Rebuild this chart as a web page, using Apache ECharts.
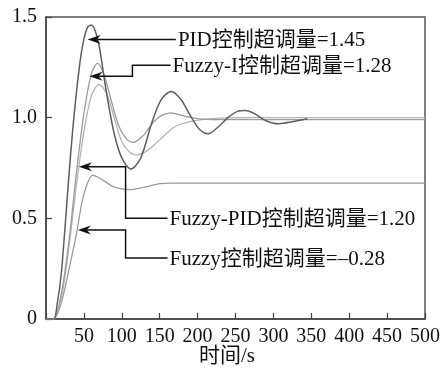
<!DOCTYPE html>
<html><head><meta charset="utf-8">
<script src="https://cdn.jsdelivr.net/npm/echarts@6/dist/echarts.min.js"></script>
<style>html,body{margin:0;padding:0;background:#fff}#c{width:444px;height:372px}</style>
</head><body><div id="c"></div>
<script>
// ---- data ----
const xTicks = [0, 50, 100, 150, 200, 250, 300, 350, 400, 450, 500];
const yTicks = [0, 0.5, 1.0, 1.5];
const xName = '时间/s';

const pidT = [0, 10, 15, 20, 25, 30, 35, 40, 45, 50, 55, 60, 65, 70, 80, 90, 100, 112, 125, 140, 152, 165, 178, 192, 203, 214, 226, 240, 252, 263, 275, 290, 307, 325, 345];
const pidV = [0, 0, 0.08, 0.22, 0.45, 0.70, 0.93, 1.12, 1.28, 1.39, 1.45, 1.46, 1.43, 1.36, 1.12, 0.92, 0.80, 0.745, 0.80, 0.98, 1.09, 1.13, 1.09, 1.00, 0.94, 0.92, 0.95, 1.00, 1.03, 1.035, 1.02, 0.985, 0.97, 0.98, 0.995];

const fiT = [0, 10, 20, 30, 40, 50, 60, 68, 76, 85, 95, 105, 115, 128, 140, 152, 165, 180, 200, 230, 500];
const fiV = [0, 0, 0.12, 0.38, 0.72, 1.02, 1.22, 1.27, 1.22, 1.10, 0.97, 0.90, 0.877, 0.91, 0.97, 1.01, 1.024, 1.01, 0.995, 0.99, 0.99];

const fpT = [0, 10, 20, 30, 40, 50, 60, 70, 80, 90, 100, 110, 120, 135, 150, 170, 190, 220, 260, 500];
const fpV = [0, 0, 0.10, 0.35, 0.66, 0.93, 1.11, 1.165, 1.12, 1.00, 0.88, 0.83, 0.815, 0.84, 0.89, 0.955, 0.98, 0.995, 1.0, 1.0];

const fzT = [0, 10, 20, 30, 40, 50, 62, 75, 90, 110, 130, 150, 165, 500];
const fzV = [0, 0, 0.08, 0.24, 0.42, 0.62, 0.715, 0.69, 0.655, 0.643, 0.655, 0.672, 0.675, 0.675];

// annotations
const annText = ['PID控制超调量=1.45', 'Fuzzy-I控制超调量=1.28', 'Fuzzy-PID控制超调量=1.20', 'Fuzzy控制超调量=–0.28'];
const annTip = [[55, 1.388], [57.5, 1.206], [43.4, 0.756], [42, 0.442]];
const annElbowX = [null, 114, 105, 105];
const annLabelY = [1.388, 1.26, 0.501, 0.303];
const annTextX = [174, 167, 163, 163];

const pairs = (t, v) => t.map((x, i) => [x, v[i]]);

const FONT = "'Liberation Serif','Times New Roman','Noto Sans CJK SC',serif";
const chart = echarts.init(document.getElementById('c'), null, {renderer: 'canvas'});

const grid = {left: 46, top: 17, right: 19, bottom: 53, show: true, borderColor: '#555', borderWidth: 1.5, backgroundColor: 'transparent'};

function lineSeries(name, t, v, color, w) {
  return {name, type: 'line', data: pairs(t, v), showSymbol: false, smooth: 0.3,
    lineStyle: {color, width: w}, z: 2, silent: true};
}

chart.setOption({
  animation: false,
  grid,
  xAxis: {type: 'value', min: 0, max: 500, interval: 50,
    axisLine: {show: true, lineStyle: {color: '#444', width: 1.5}},
    axisTick: {show: true, inside: true, length: 6, lineStyle: {color: '#444', width: 1.2}},
    splitLine: {show: false},
    axisLabel: {fontFamily: FONT, fontSize: 20, color: '#111', margin: 8,
      formatter: v => (v === 0 ? '' : String(v))}},
  yAxis: {type: 'value', min: 0, max: 1.5, interval: 0.5,
    axisLine: {show: true, lineStyle: {color: '#444', width: 1.5}},
    axisTick: {show: true, inside: true, length: 6, lineStyle: {color: '#444', width: 1.2}},
    splitLine: {show: false},
    axisLabel: {fontFamily: FONT, fontSize: 20, color: '#111', margin: 9,
      formatter: v => (v === 0 ? '0' : v.toFixed(1))}},
  series: [
    lineSeries('Fuzzy', fzT, fzV, '#9a9a9a', 1.3),
    lineSeries('Fuzzy-PID', fpT, fpV, '#b4b4b4', 1.3),
    lineSeries('Fuzzy-I', fiT, fiV, '#9c9c9c', 1.3),
    lineSeries('PID', pidT, pidV, '#5e5e5e', 1.5)
  ]
});

const g = [];
for (let i = 0; i < annText.length; i++) {
  const tip = chart.convertToPixel({gridIndex: 0}, annTip[i]);
  const lab = chart.convertToPixel({gridIndex: 0}, [annTextX[i], annLabelY[i]]);
  const pts = [tip];
  if (annElbowX[i] !== null) {
    const ex = chart.convertToPixel({gridIndex: 0}, [annElbowX[i], annTip[i][1]])[0];
    pts.push([ex, tip[1]]);
    pts.push([ex, lab[1]]);
  }
  pts.push([lab[0] - 2, lab[1]]);
  const arrowL = 11, arrowW = 4.5;
  pts[0] = [tip[0] + arrowL - 2, tip[1]];
  g.push({type: 'polyline', shape: {points: pts}, style: {stroke: '#111', lineWidth: 1.5, fill: null}, z: 10});
  g.push({type: 'polygon', shape: {points: [[tip[0], tip[1]], [tip[0] + arrowL + 2, tip[1] - arrowW], [tip[0] + arrowL - 2, tip[1]], [tip[0] + arrowL + 2, tip[1] + arrowW]]},
    style: {fill: '#111'}, z: 11});
  g.push({type: 'text', x: lab[0], y: lab[1] + 1, style: {text: annText[i], font: "21px " + FONT, fill: '#111', verticalAlign: 'middle', align: 'left'}, z: 12});
}
g.push({type: 'text', x: 227, y: 356, style: {text: xName, font: "21px " + FONT, fill: '#111', align: 'center', verticalAlign: 'middle'}, z: 12});
chart.setOption({graphic: g});
</script>
</body></html>
